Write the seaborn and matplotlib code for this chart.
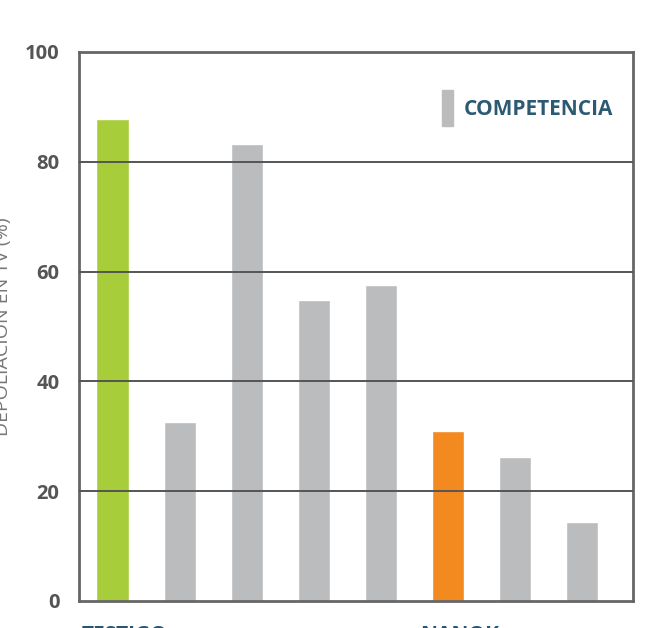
import matplotlib
matplotlib.use("Agg")
import matplotlib.pyplot as plt
import matplotlib.patches as mpatches
import matplotlib.transforms as mtransforms
import seaborn as sns
import pandas as pd

# data
products = ["TESTIGO", "P2", "P3", "P4", "P5", "NANOK", "P7", "P8"]
tick_labels = ["TESTIGO", "", "", "", "", "NANOK", "", ""]
values = [87.8, 32.6, 83.2, 54.8, 57.6, 31.0, 26.2, 14.4]
bar_colors = ["#a8cd3a", "#bbbcbe", "#bbbcbe", "#bbbcbe", "#bbbcbe", "#f28a20", "#bbbcbe", "#bbbcbe"]
y_ticks = [0, 20, 40, 60, 80, 100]

df = pd.DataFrame({"producto": products, "valor": values})

sns.set_style("white")
plt.rcParams["font.family"] = ["Open Sans", "DejaVu Sans"]

fig = plt.figure(figsize=(6.68, 6.28), dpi=100)
ax = fig.add_axes([0.1183, 0.043, 0.8293, 0.8742])

sns.barplot(data=df, x="producto", y="valor", hue="producto", palette=bar_colors,
            legend=False, width=0.48, saturation=1, ax=ax, zorder=1)

ax.set_ylim(0, 100)
ax.set_xlim(-0.5, 7.76)
ax.set_yticks(y_ticks)
ax.set_yticklabels([str(t) for t in y_ticks], fontsize=14.5, fontweight="bold", color="#555555")
ax.set_xticks(range(len(products)))
ax.set_xticklabels(tick_labels, fontsize=15, fontweight="bold", color="#2a5570")
ax.tick_params(axis="x", length=0, pad=17)
ax.tick_params(axis="y", length=0, pad=14)
shift = mtransforms.ScaledTranslation(0.12, 0, fig.dpi_scale_trans)
for lab in ax.get_xticklabels():
    lab.set_transform(lab.get_transform() + shift)

ax.set_xlabel("")
ax.set_ylabel("DEPOLIACIÓN EN TV (%)", fontsize=14, color="#777777")
ax.yaxis.set_label_coords(-0.121, 0.5)

# grid lines over the bars
for t in y_ticks[1:-1]:
    ax.axhline(t, color="#555555", lw=1.4, zorder=3)

for s in ax.spines.values():
    s.set_visible(True)
    s.set_color("#666666")
    s.set_linewidth(2)

handle = mpatches.Patch(color="#bbbcbe", label="COMPETENCIA")
leg = ax.legend(handles=[handle], loc="upper right", frameon=False,
                handlelength=0.55, handleheight=2.3, handletextpad=0.5,
                bbox_to_anchor=(0.998, 0.965), prop={"size": 15, "weight": "bold"})
for txt in leg.get_texts():
    txt.set_color("#2d5a73")

fig.savefig("out.png", dpi=100)
